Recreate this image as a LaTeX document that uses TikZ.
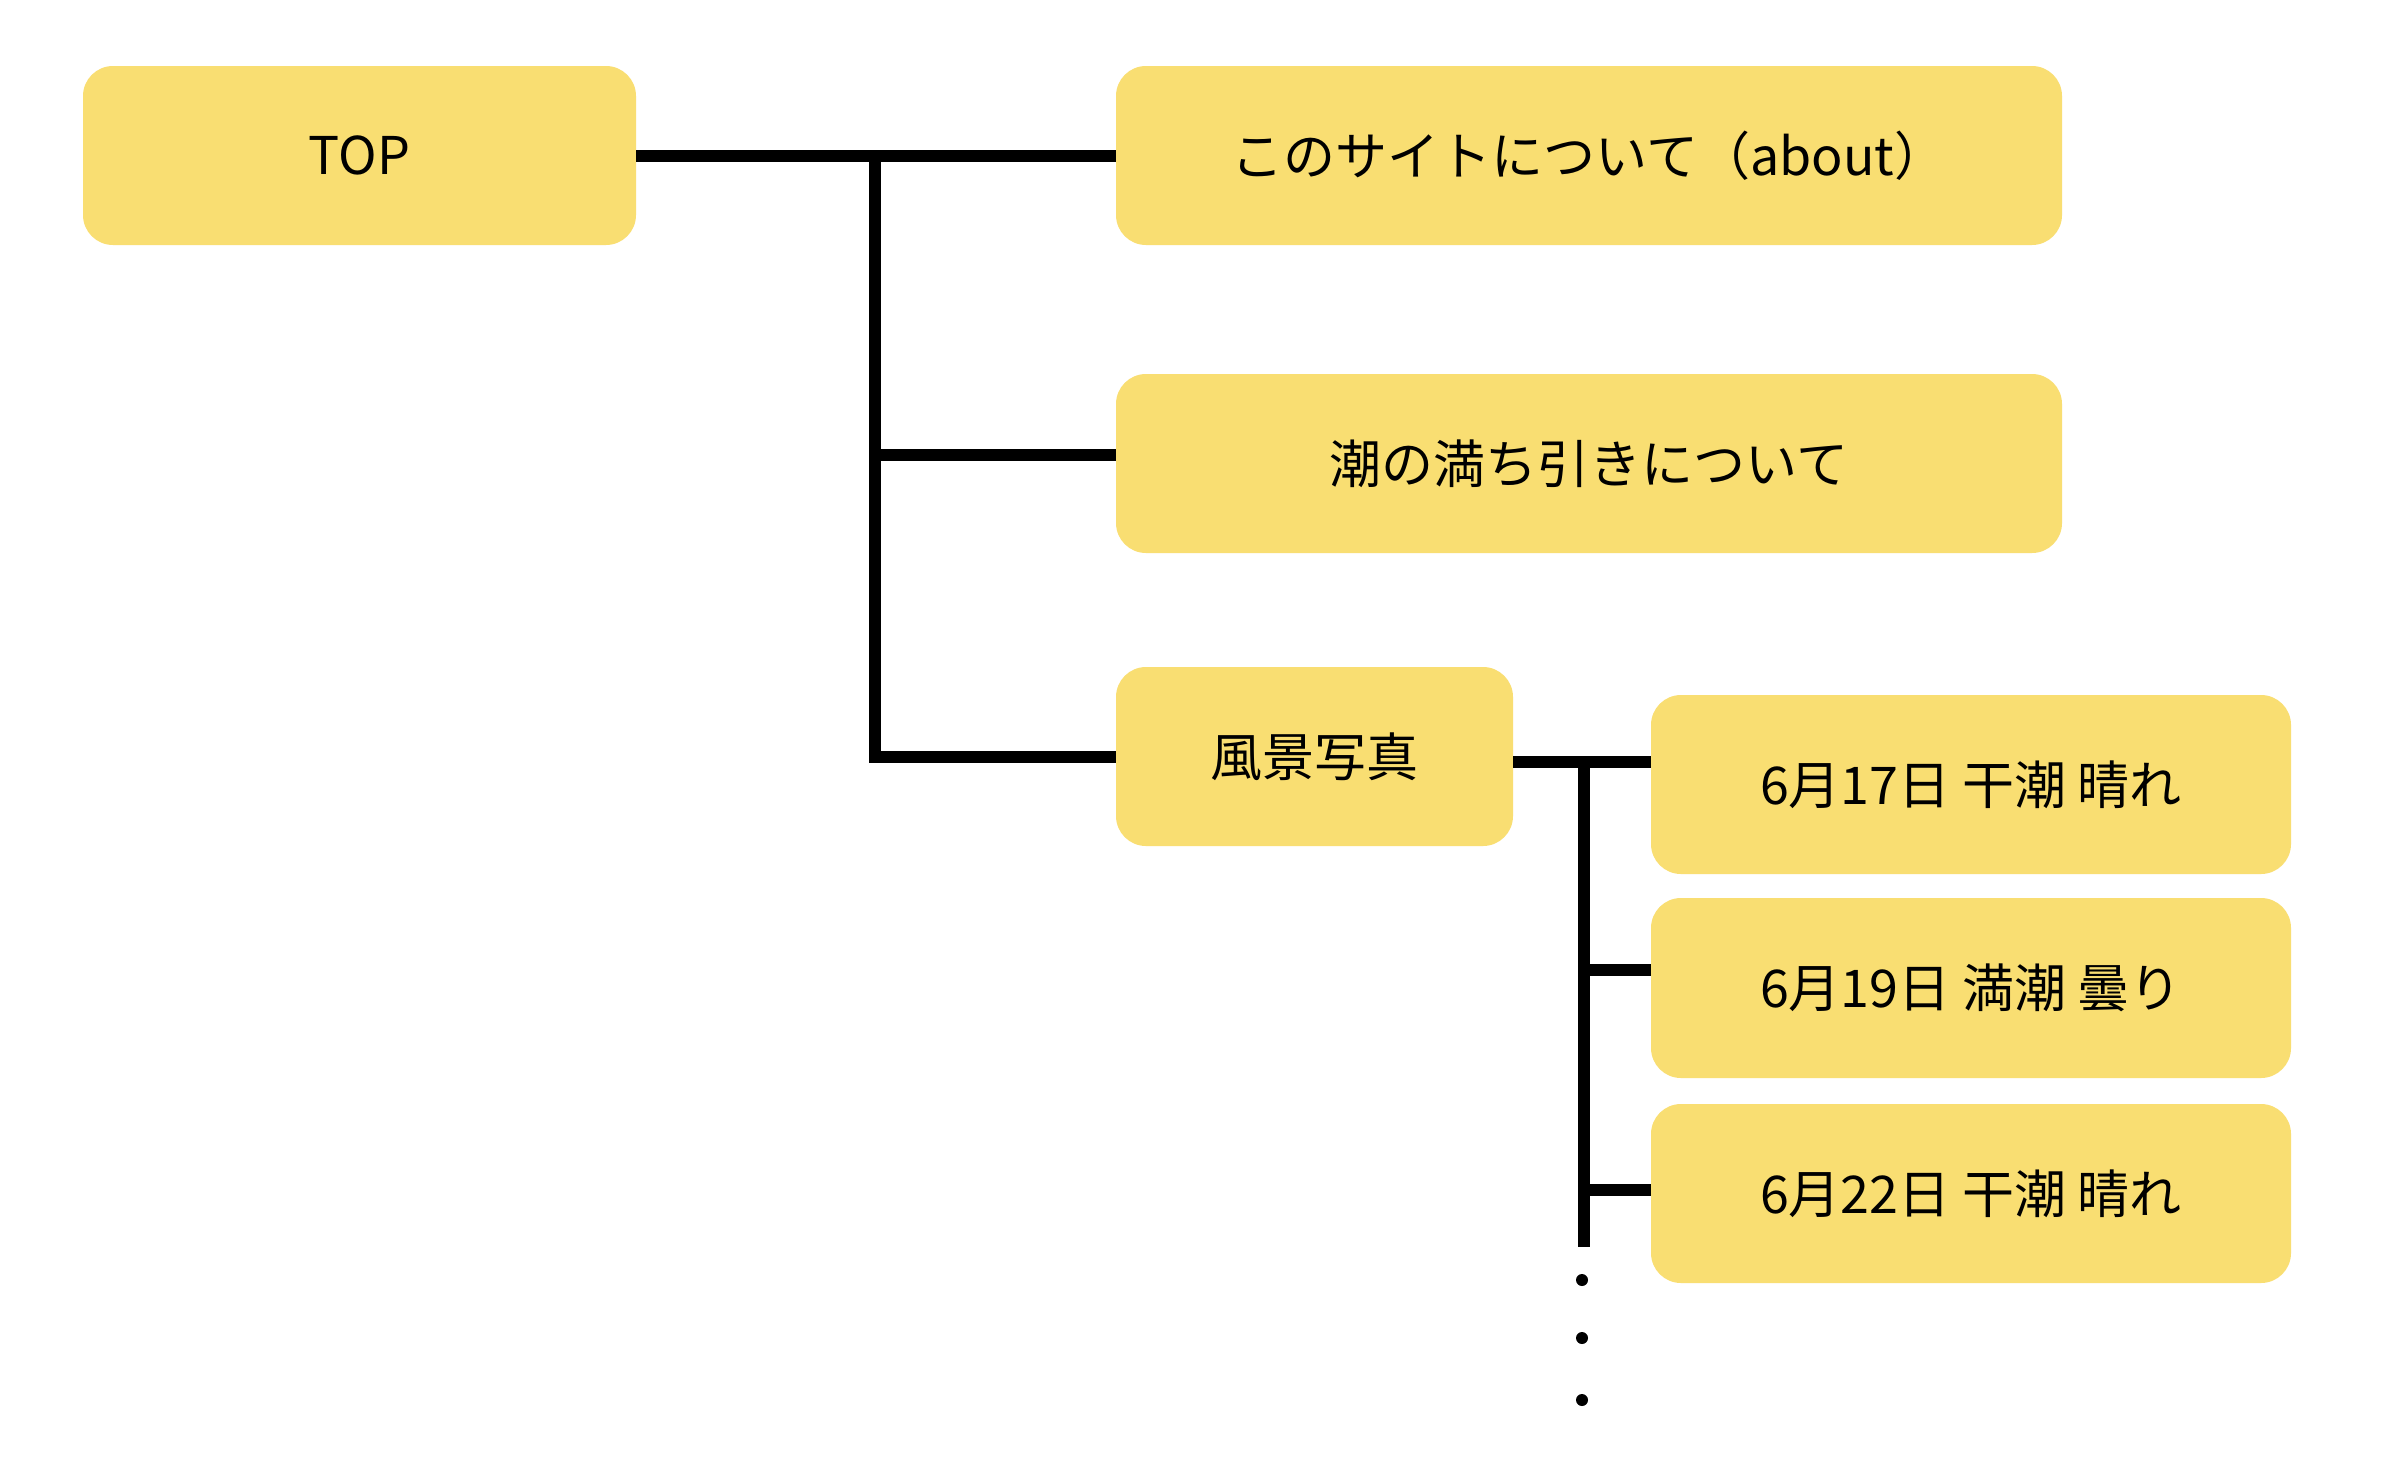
\documentclass[tikz,border=0pt]{standalone}
\usepackage{fontspec}
\setmainfont{Noto Sans CJK JP}
\definecolor{boxyellow}{HTML}{F9DE72}
\begin{document}
\begin{tikzpicture}[x=1pt,y=1pt,
  box/.style={fill=boxyellow,draw=none,rounded corners=30pt,inner sep=0pt,
    minimum height=179pt,font=\fontsize{52}{60}\selectfont,text=black},
  conn/.style={line width=12pt,draw=black},
  dotmark/.style={fill=black,draw=none}]
\useasboundingbox (0,0) rectangle (2404,-1476);
\fill[white] (0,0) rectangle (2404,-1476);
\node[box,minimum width=553pt] (top) at (359.5,-155.5) {TOP};
\node[box,minimum width=946pt] (about) at (1589,-155.5) {このサイトについて（about）};
\node[box,minimum width=946pt] (tide) at (1589,-463.5) {潮の満ち引きについて};
\node[box,minimum width=397pt] (photo) at (1314.5,-756.5) {風景写真};
\node[box,minimum width=640pt] (d17) at (1971,-784.5) {6月17日 干潮 晴れ};
\node[box,minimum width=640pt,minimum height=180pt] (d19) at (1971,-988) {6月19日 満潮 曇り};
\node[box,minimum width=640pt] (d22) at (1971,-1193.5) {6月22日 干潮 晴れ};
% first level
\coordinate (j1) at (875,-155.5);
\coordinate (b1) at (875,-455);
\draw[conn] (top.east) -- (about.west);
\draw[conn] (j1) |- (photo.west);
\draw[conn] (b1) -- (b1 -| tide.west);
% second level
\coordinate (j2) at (1584,-762);
\coordinate (e2) at (1584,-1247);
\coordinate (b19) at (1584,-970);
\coordinate (b22) at (1584,-1190);
\draw[conn] (photo.east |- j2) -- (d17.west |- j2);
\draw[conn] (j2) -- (e2);
\draw[conn] (b19) -- (b19 -| d19.west);
\draw[conn] (b22) -- (b22 -| d22.west);
\coordinate (dot1) at (1582,-1280);
\coordinate (dot2) at (1582,-1338);
\coordinate (dot3) at (1582,-1400);
\fill[dotmark] (dot1) circle (6pt);
\fill[dotmark] (dot2) circle (6pt);
\fill[dotmark] (dot3) circle (6pt);
\end{tikzpicture}
\end{document}
